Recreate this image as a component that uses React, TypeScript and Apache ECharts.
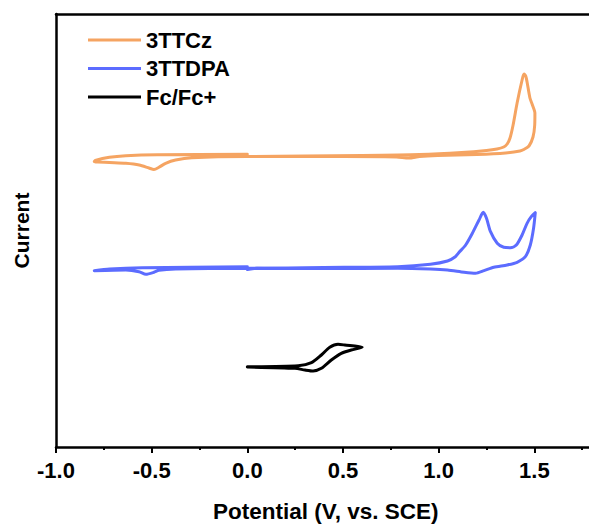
import React, { useEffect, useRef } from "react";
import * as echarts from "echarts";

// Potential (V vs. SCE) and current (a.u., curves offset vertically)
const ttczPotential = [0.0, 0.3, 0.6, 0.9, 1.12, 1.25, 1.305, 1.34, 1.358, 1.373, 1.389, 1.41, 1.436, 1.446, 1.455, 1.462, 1.477, 1.49, 1.503, 1.502, 1.493, 1.472, 1.445, 1.425, 1.35, 1.2, 0.994, 0.9, 0.843, 0.78, 0.5, 0.0, -0.29, -0.375, -0.427, -0.462, -0.488, -0.514, -0.565, -0.635, -0.72, -0.8, -0.795, -0.721, -0.635, -0.47, 0.0];
const ttczCurrent = [29.05, 29.1, 29.15, 29.25, 29.45, 29.65, 29.8, 30.0, 30.3, 30.9, 32.2, 34.4, 36.7, 37.3, 37.1, 36.5, 34.9, 34.2, 33.4, 32.2, 31.0, 30.1, 29.75, 29.6, 29.4, 29.25, 29.15, 29.05, 28.9, 29.0, 29.05, 29.05, 28.93, 28.7, 28.37, 27.97, 27.75, 27.9, 28.2, 28.37, 28.45, 28.53, 28.65, 28.97, 29.13, 29.23, 29.27];

const ttdpaPotential = [0.0, 0.05, 0.4, 0.786, 0.957, 1.046, 1.087, 1.107, 1.141, 1.176, 1.211, 1.233, 1.25, 1.271, 1.306, 1.34, 1.375, 1.406, 1.436, 1.462, 1.484, 1.505, 1.496, 1.479, 1.453, 1.41, 1.358, 1.288, 1.237, 1.193, 1.133, 1.046, 0.957, 0.786, 0.4, 0.0, -0.375, -0.462, -0.488, -0.53, -0.566, -0.635, -0.8, -0.72, -0.549, 0.0];
const ttdpaCurrent = [17.75, 17.88, 17.95, 18.03, 18.27, 18.6, 19.03, 19.47, 20.2, 21.37, 22.7, 23.47, 22.87, 21.53, 20.37, 19.97, 19.93, 20.2, 21.2, 22.37, 23.03, 23.43, 21.87, 20.2, 19.03, 18.47, 18.2, 17.97, 17.63, 17.37, 17.47, 17.7, 17.8, 17.87, 17.85, 17.87, 17.8, 17.67, 17.47, 17.27, 17.53, 17.7, 17.63, 17.8, 17.93, 18.03];

const fcPotential = [0.0, 0.266, 0.335, 0.387, 0.431, 0.474, 0.509, 0.6, 0.543, 0.491, 0.439, 0.387, 0.344, 0.301, 0.249, 0.0];
const fcCurrent = [8.03, 8.13, 8.43, 9.2, 9.97, 10.27, 10.2, 9.97, 9.7, 9.37, 8.7, 7.87, 7.6, 7.7, 7.87, 8.0];

const seriesNames = ["3TTCz", "3TTDPA", "Fc/Fc+"];
const seriesColors = ["#F5A462", "#5C6CFF", "#000000"];
const xTicks = [-1.0, -0.5, 0.0, 0.5, 1.0, 1.5];
const xTitle = "Potential (V, vs. SCE)";
const yTitle = "Current";

const zip = (xs: number[], ys: number[]) => xs.map((x, i) => [x, ys[i]]);

export default function App() {
  const ref = useRef<HTMLDivElement>(null);
  useEffect(() => {
    if (!ref.current) return;
    const chart = echarts.init(ref.current, null, { renderer: "svg" });
    const font = "'Liberation Sans', Arial, sans-serif";
    const datasets = [
      zip(ttczPotential, ttczCurrent),
      zip(ttdpaPotential, ttdpaCurrent),
      zip(fcPotential, fcCurrent),
    ];
    chart.setOption({
      animation: false,
      backgroundColor: "#ffffff",
      grid: { left: 56, right: 0, top: 14, bottom: 79 },
      legend: {
        orient: "vertical",
        left: 88,
        top: 29,
        padding: 0,
        icon: "rect",
        itemWidth: 53,
        itemHeight: 3,
        itemGap: 6.5,
        data: seriesNames,
        textStyle: { fontFamily: font, fontWeight: "bold", fontSize: 22, color: "#000", lineHeight: 22 },
      },
      graphic: [
        {
          type: "text",
          left: 327 - 114,
          top: 500,
          style: {
            text: xTitle,
            fontFamily: font,
            fontWeight: "bold",
            fontSize: 22.5,
            fill: "#000",
          },
        },
      ],
      xAxis: [
        {
          type: "value",
          min: -1.0,
          max: 2.0,
          interval: 0.5,
          axisLine: { show: true, onZero: false, lineStyle: { color: "#000", width: 2.5 } },
          axisTick: { show: true, inside: false, length: 6, lineStyle: { color: "#000", width: 2 } },
          minorTick: { show: true, splitNumber: 2, length: 3, lineStyle: { color: "#000", width: 2 } },
          axisLabel: {
            fontFamily: font,
            fontWeight: "bold",
            fontSize: 22,
            color: "#000",
            margin: 12,
            formatter: (v: number) => (xTicks.some((t) => Math.abs(t - v) < 1e-6) ? v.toFixed(1) : ""),
          },
          splitLine: { show: false },
        },
        {
          type: "value",
          position: "top",
          min: -1.0,
          max: 2.0,
          axisLine: { show: true, onZero: false, lineStyle: { color: "#000", width: 2.5 } },
          axisTick: { show: false },
          axisLabel: { show: false },
          splitLine: { show: false },
        },
      ],
      yAxis: {
        type: "value",
        min: 0,
        max: 43.3,
        name: yTitle,
        nameLocation: "middle",
        nameGap: 24,
        nameRotate: 90,
        nameTextStyle: { fontFamily: font, fontWeight: "bold", fontSize: 21, color: "#000" },
        axisLine: { show: true, onZero: false, lineStyle: { color: "#000", width: 2.5 } },
        axisTick: { show: false },
        axisLabel: { show: false },
        splitLine: { show: false },
      },
      series: seriesNames.map((name, i) => ({
        name,
        type: "line",
        xAxisIndex: 0,
        data: datasets[i],
        showSymbol: false,
        smooth: 0.25,
        color: seriesColors[i],
        lineStyle: { color: seriesColors[i], width: 3, join: "round", cap: "round" },
      })),
    });
    return () => chart.dispose();
  }, []);
  return <div ref={ref} style={{ position: "fixed", left: 0, top: 0, width: 633, height: 526 }} />;
}
